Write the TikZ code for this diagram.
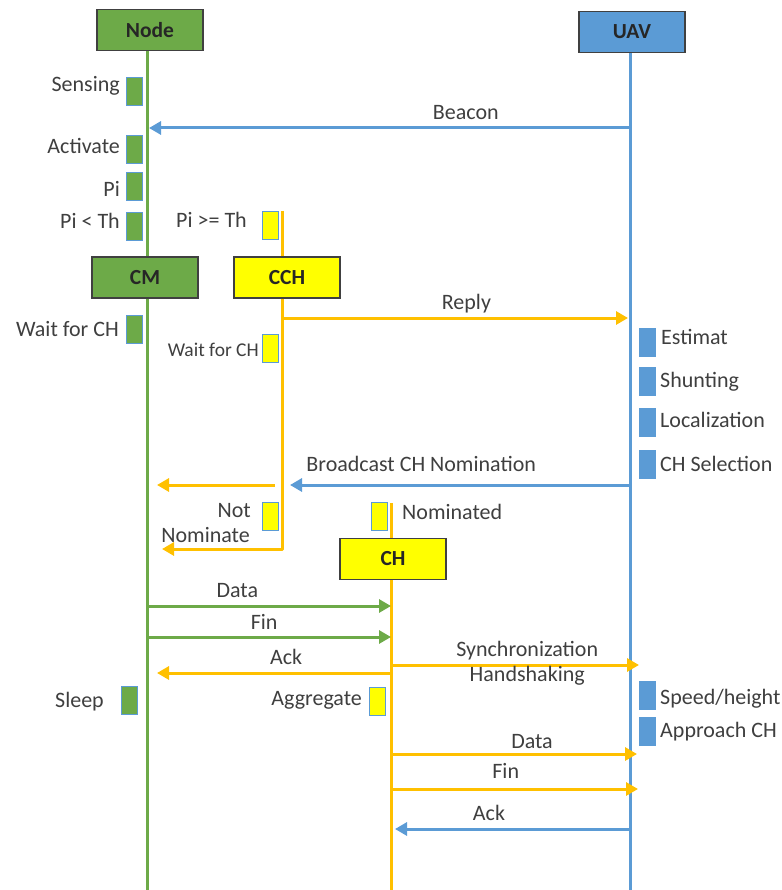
\documentclass[tikz,border=0pt]{standalone}
\usepackage{fontspec}
\setmainfont{Carlito}
\usetikzlibrary{positioning,arrows.meta,calc,backgrounds}
\definecolor{grn}{HTML}{6DAA48}
\definecolor{blu}{HTML}{5B9BD5}
\definecolor{ylw}{HTML}{FFFF00}
\definecolor{orng}{HTML}{FFC000}
\definecolor{txt}{HTML}{3F3F3F}

\tikzset{
  actor/.style={draw=black!75, line width=1.4pt, minimum width=106pt, minimum height=41pt,
    inner sep=0pt, text=black!85, font=\fontsize{21.5}{25}\selectfont\bfseries},
  act/.style={draw=blu, line width=0.8pt, minimum width=16pt, minimum height=28pt, inner sep=0pt},
  life/.style={line width=3pt},
  msg/.style={line width=3pt, -{Triangle[length=12pt,width=13pt]}},
  lbl/.style={text=txt, font=\fontsize{22}{26}\selectfont, inner sep=1pt,
    text height=15pt, text depth=5pt}
}

\begin{document}
\begin{tikzpicture}[x=1pt,y=-1pt]
  \useasboundingbox (0,0) rectangle (781,890);
  % actors
  \node[actor, fill=grn] (node) at (150,30) {Node};
  \node[actor, fill=blu] (uav) at (632,32) {UAV};
  \node[actor, fill=grn] (cm) at (145,277.5) {CM};
  \node[actor, fill=ylw] (cch) at (287,277.5) {CCH};
  \node[actor, fill=ylw] (ch) at (393,559) {CH};
  % lifeline ends
  \coordinate (nodebot) at (147,890);
  \coordinate (uavbot) at (630,890);
  \coordinate (chbot) at (391,890);
  \coordinate (cchtop) at (282,211);
  \coordinate (cchturn) at (282,549);
  \coordinate (chtop) at (391,503);
  \begin{scope}[on background layer]
    \draw[life, grn] (node.south -| nodebot) -- (nodebot);
    \draw[life, blu] (uav.south -| uavbot) -- (uavbot);
    \draw[life, orng] (chtop) -- (chbot);
    \draw[msg, orng, line join=round, shorten >=15pt] (cchtop) -- (cchturn) -- (cchturn -| nodebot);
  \end{scope}

  % activation boxes, node side
  \node[act, fill=grn] (sens) at (134,91) {};
  \node[act, fill=grn] (actv) at (134,149) {};
  \node[act, fill=grn] (pi) at (134,186) {};
  \node[act, fill=grn] (pilt) at (134,226) {};
  \node[act, fill=grn] (wcm) at (134,329) {};
  \node[act, fill=grn] (sleep) at (129.5,700) {};
  \node[act, fill=ylw] (pige) at (270,225) {};
  \node[act, fill=ylw] (wcch) at (270,348.5) {};
  \node[act, fill=ylw] (notn) at (270,516.5) {};
  \node[act, fill=ylw] (nomd) at (379,516.5) {};
  \node[act, fill=ylw] (aggr) at (377.5,701) {};
  % activation boxes, uav side
  \node[act, fill=blu] (est) at (647,342.5) {};
  \node[act, fill=blu] (shun) at (647,381.5) {};
  \node[act, fill=blu] (loc) at (647,422.5) {};
  \node[act, fill=blu] (chs) at (647,464.5) {};
  \node[act, fill=blu] (spd) at (647,695) {};
  \node[act, fill=blu] (appr) at (647,731) {};

  % state labels
  \node[lbl, anchor=east] (lsens) at (121,87) {Sensing};
  \node[lbl, anchor=east] (lactv) at (121,149) {Activate};
  \node[lbl, anchor=east] (lpi) at (121,192) {Pi};
  \node[lbl, anchor=east] (lpilt) at (121,224) {Pi < Th};
  \node[lbl, anchor=east] (lpige) at (248,223) {Pi >= Th};
  \node[lbl, anchor=east] (lwcm) at (120,331) {Wait for CH};
  \node[lbl, anchor=east, font=\fontsize{19.5}{23}\selectfont] (lwcch) at (260,351) {Wait for CH};
  \node[lbl, anchor=east] (lnot) at (252,512) {Not};
  \node[lbl, anchor=east] (lnom) at (251,537) {Nominate};
  \node[lbl, anchor=west] (lnomd) at (401,514) {Nominated};
  \node[lbl, anchor=east] (lsleep) at (105,702) {Sleep};
  \node[lbl, anchor=east] (laggr) at (363,700) {Aggregate};
  \node[lbl, anchor=west] (lest) at (660,339) {Estimat};
  \node[lbl, anchor=west] (lshun) at (659,382) {Shunting};
  \node[lbl, anchor=west] (lloc) at (659,422) {Localization};
  \node[lbl, anchor=west] (lchs) at (659,466) {CH Selection};
  \node[lbl, anchor=west] (lspd) at (659,699) {Speed/height};
  \node[lbl, anchor=west] (lappr) at (659,732) {Approach CH};

  % messages
  \coordinate (bcn) at (630,128);
  \draw[msg, blu, shorten >=2pt] (bcn) -- node[lbl, pos=0.34, above=1pt] {Beacon} (bcn -| nodebot);
  \coordinate (rpl) at (282,318);
  \draw[msg, orng, shorten >=2pt] (rpl) -- node[lbl, pos=0.53, above=1pt] {Reply} (rpl -| uavbot);
  \coordinate (brd) at (630,485);
  \draw[msg, blu, shorten >=8pt] (brd) -- node[lbl, pos=0.60, above=6pt] {Broadcast CH Nomination} (brd -| cchtop);
  \draw[msg, orng, shorten <=7pt, shorten >=10pt] (brd -| cchtop) -- (brd -| nodebot);
  \coordinate (dat1) at (147,606);
  \draw[msg, grn] (dat1) -- node[lbl, pos=0.37, above=1pt] {Data} (dat1 -| chbot);
  \coordinate (fin1) at (147,637);
  \draw[msg, grn] (fin1) -- node[lbl, pos=0.48, above=0pt] {Fin} (fin1 -| chbot);
  \coordinate (syn) at (391,665);
  \draw[msg, orng, shorten >=-9pt] (syn) -- node[lbl, pos=0.57, above=1pt] {Synchronization}
    node[lbl, pos=0.57, below=-1pt] {Handshaking} (syn -| uavbot);
  \coordinate (ack1) at (391,673);
  \draw[msg, orng, shorten >=10pt] (ack1) -- node[lbl, pos=0.43, above=1pt] {Ack} (ack1 -| nodebot);
  \coordinate (dat2) at (391,754);
  \draw[msg, orng, shorten >=-7pt] (dat2) -- node[lbl, pos=0.59, above=-2pt] {Data} (dat2 -| uavbot);
  \coordinate (fin2) at (391,789);
  \draw[msg, orng, shorten >=-8pt] (fin2) -- node[lbl, pos=0.48, above=3pt] {Fin} (fin2 -| uavbot);
  \coordinate (ack2) at (630,829);
  \draw[msg, blu, shorten >=4pt] (ack2) -- node[lbl, pos=0.59, above=1pt] {Ack} (ack2 -| chbot);
\end{tikzpicture}
\end{document}
